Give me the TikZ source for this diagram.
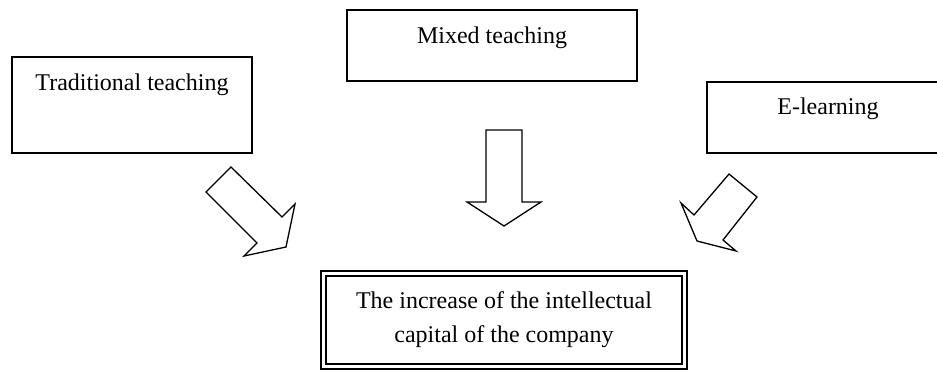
\documentclass[tikz,border=0pt]{standalone}
\usepackage{fontspec}
\setmainfont{Liberation Serif}
\tikzset{
  box/.style={line width=1.4pt},
  blockarrow/.style={line width=1.3pt, line join=miter, fill=white},
  label/.style={inner sep=0pt, font=\fontsize{24}{34}\selectfont},
}
\begin{document}
\begin{tikzpicture}[x=1pt,y=-1pt]
\clip (0,0) rectangle (937,370);

% the three sources
\draw[box] (12,57) rectangle (252,153);
\draw[box] (347,10) rectangle (637,81);
\draw[box] (707,82) rectangle (949,153);

\node[label,anchor=base] (trad) at (132,90) {Traditional teaching};
\node[label,anchor=base] (mixed) at (492,43) {Mixed teaching};
\node[label,anchor=base] (elearn) at (828,114) {E-learning};

% block arrows
\draw[blockarrow] (231,167)--(282,217)--(295,204)--(286,247)--(244,256)--(257,243)--(206,192)--cycle;
\draw[blockarrow] (486,130)--(522,130)--(522,202)--(541,202)--(504,226)--(467,202)--(486,202)--cycle;
\draw[blockarrow] (729,174)--(694,215)--(681,203)--(697,241)--(736,251)--(723,240)--(757,197)--cycle;

% result
\draw[line width=1.7pt] (321,271) rectangle (687,369);
\draw[line width=1.2pt] (326,276) rectangle (682,364);
\node[label,align=center] (capital) at (504,319.5) {The increase of the intellectual\\capital of the company};
\end{tikzpicture}
\end{document}
